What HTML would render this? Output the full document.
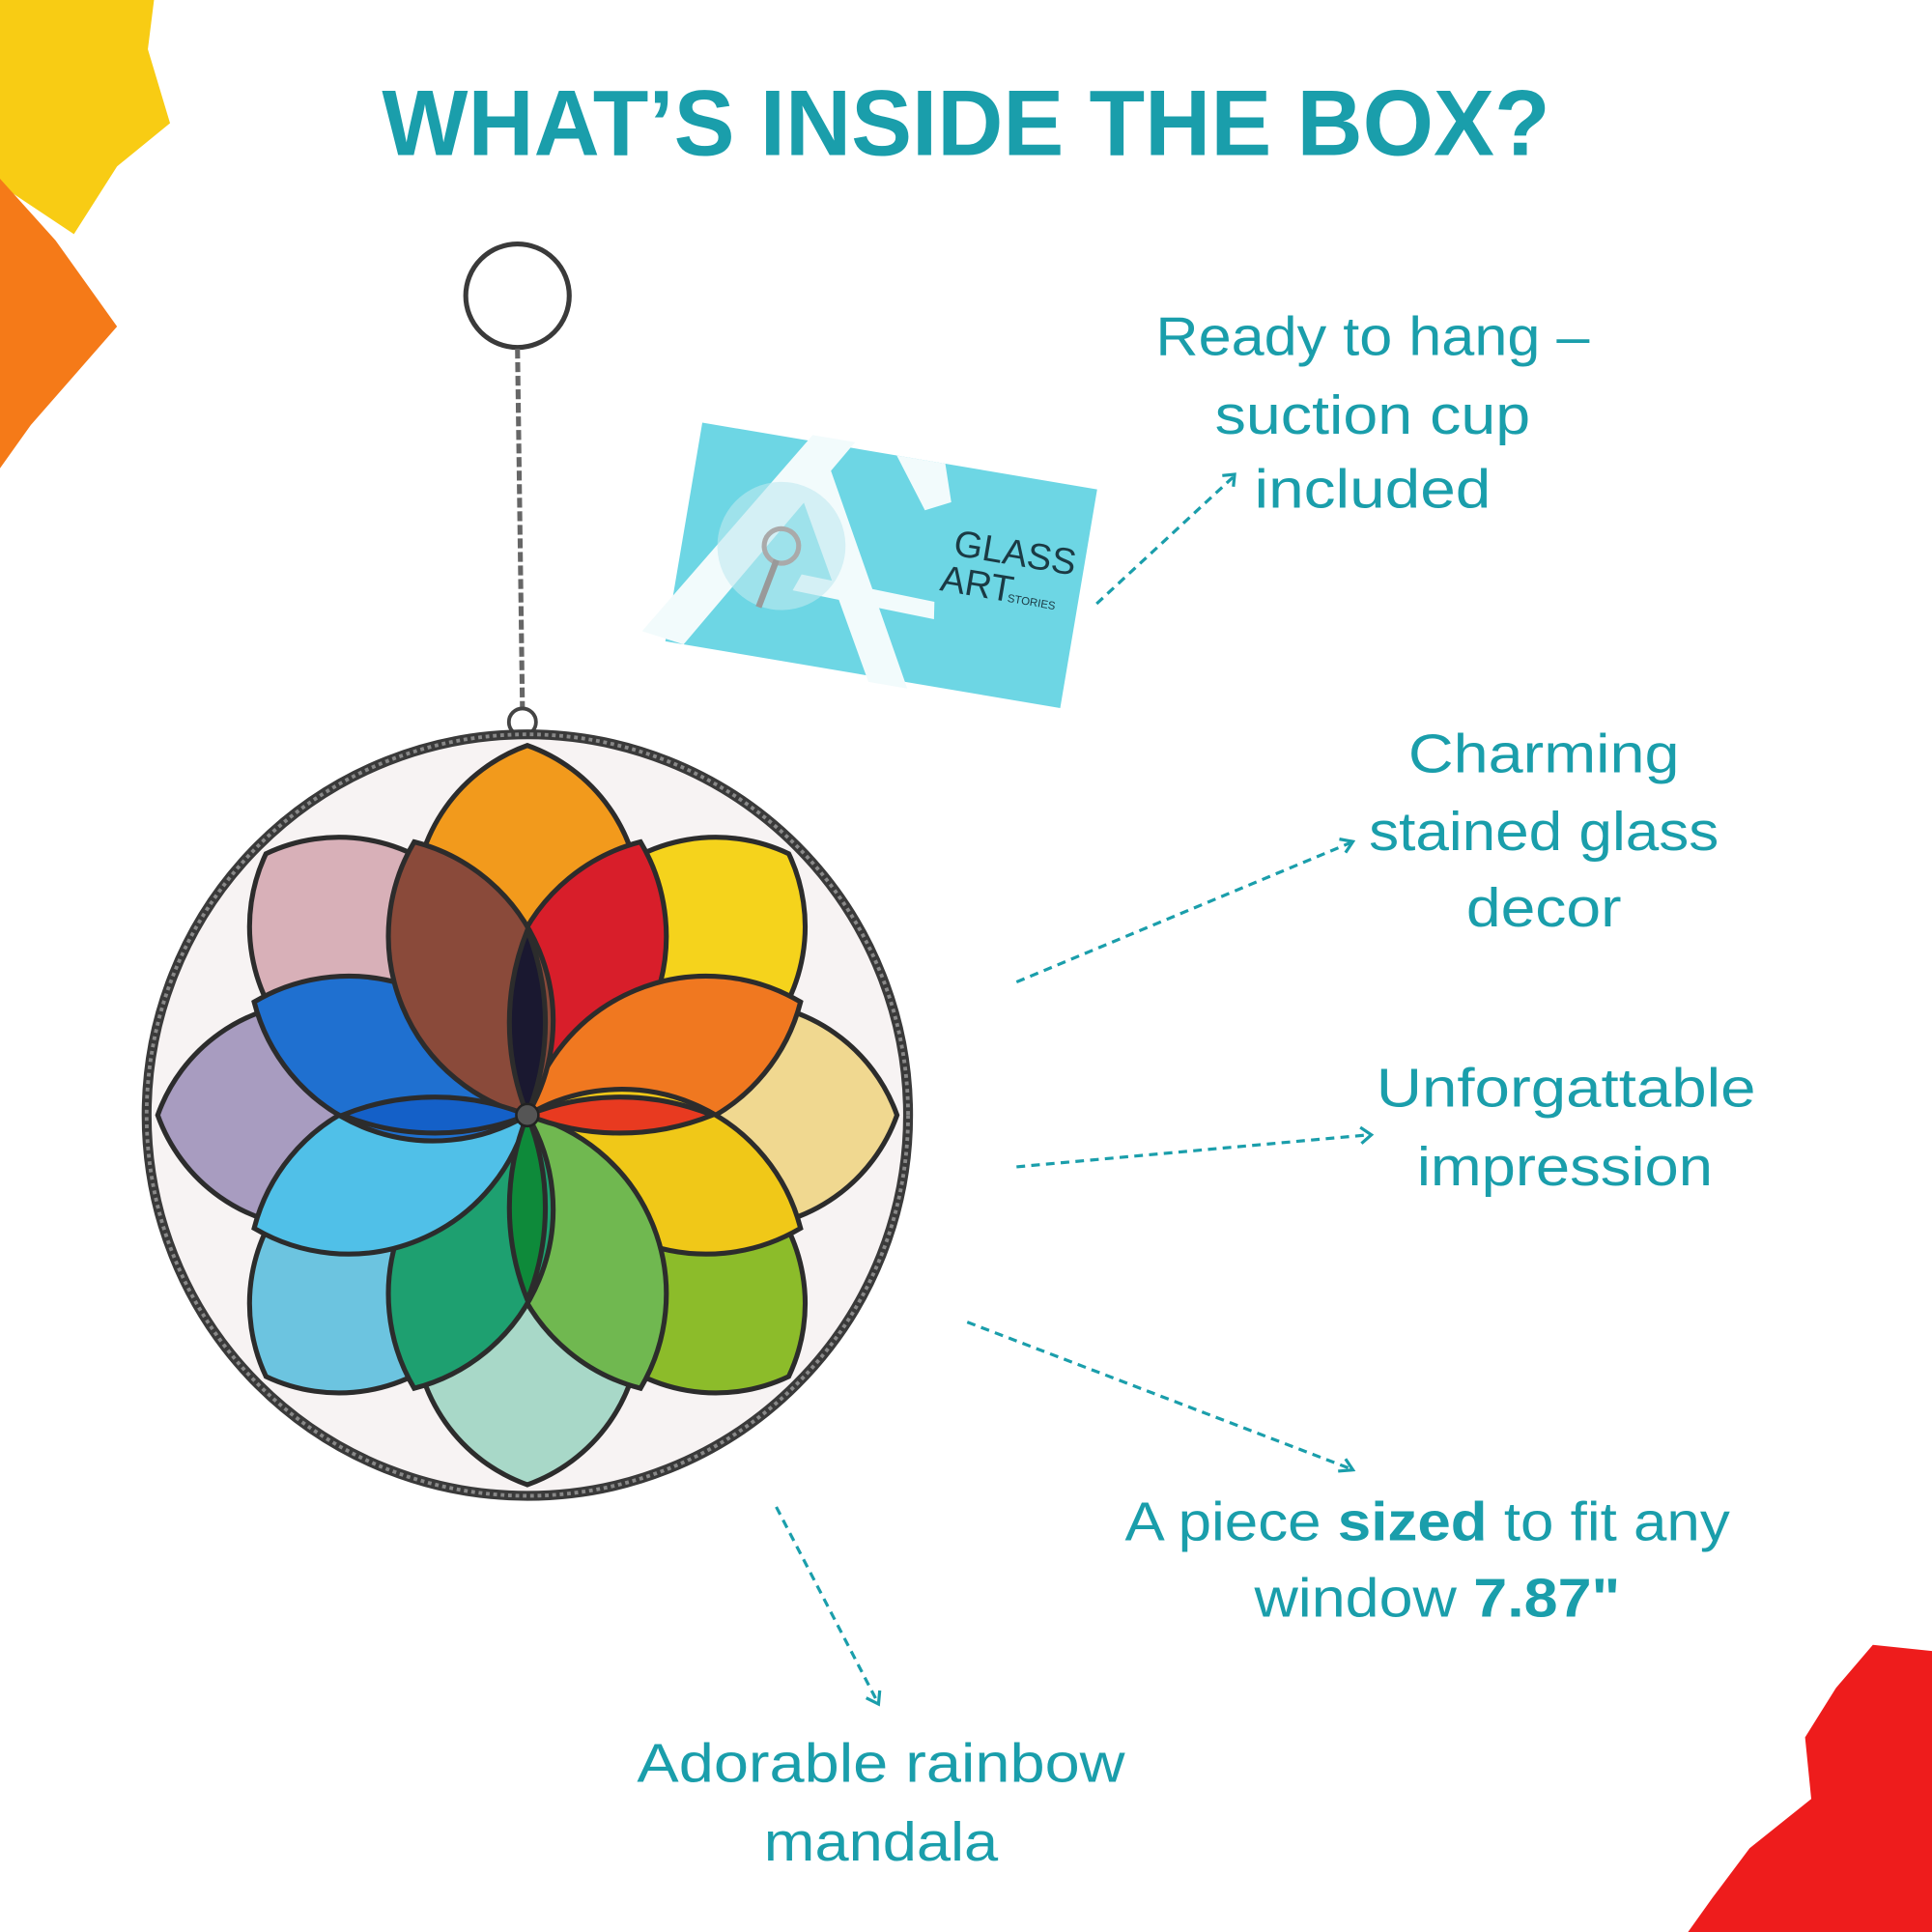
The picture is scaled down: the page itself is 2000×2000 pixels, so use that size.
<!DOCTYPE html>
<html><head><meta charset="utf-8"><style>
html,body{margin:0;padding:0;background:#fff}
svg{display:block}
text{font-family:"Liberation Sans",sans-serif;fill:#1a9eab}
</style></head><body>
<svg width="2000" height="2000" viewBox="0 0 1568 1568" xmlns="http://www.w3.org/2000/svg">
<defs>
<path id="op" d="M0,-40 A138,138 0 0 1 0,-300 A138,138 0 0 1 0,-40 Z"/>
<path id="ip" d="M0,0 A150,150 0 0 1 0,-240 A150,150 0 0 1 0,0 Z"/>
</defs>
<rect width="1568" height="1568" fill="#fff"/>
<path d="M0,0 L125,0 L120,40 L138,100 L95,135 L60,190 L0,150 Z" fill="#f8cc14"/>
<path d="M0,145 L45,195 L95,265 L25,345 L0,380 Z" fill="#f57a18"/>
<path d="M1568,1340 L1520,1335 L1490,1370 L1465,1410 L1470,1460 L1420,1500 L1390,1540 L1370,1568 L1568,1568 Z" fill="#ee1c1c"/>
<text x="784" y="126" text-anchor="middle" font-size="76" font-weight="bold" textLength="948" lengthAdjust="spacingAndGlyphs">WHAT’S INSIDE THE BOX?</text>
<circle cx="420" cy="240" r="42" fill="none" stroke="#3a3a3a" stroke-width="4"/>
<line x1="420" y1="283" x2="424" y2="575" stroke="#666" stroke-width="4" stroke-dasharray="8,3"/>
<circle cx="424" cy="586" r="11" fill="none" stroke="#444" stroke-width="3"/>
<g transform="translate(428,905)">
<circle r="309" fill="#f7f3f3" stroke="#3a3a3a" stroke-width="8"/>
<circle r="309" fill="none" stroke="#888" stroke-width="3" stroke-dasharray="3,3"/>
<g stroke="#2c2c2c" stroke-width="4">
<use href="#op" fill="#f29a1c"/>
<use href="#op" transform="rotate(45)" fill="#f5d31c"/>
<use href="#op" transform="rotate(90)" fill="#f0d890"/>
<use href="#op" transform="rotate(135)" fill="#8cbc2a"/>
<use href="#op" transform="rotate(180)" fill="#a8d8c8"/>
<use href="#op" transform="rotate(225)" fill="#6cc4e0"/>
<use href="#op" transform="rotate(270)" fill="#a89cc0"/>
<use href="#op" transform="rotate(315)" fill="#d8b0b8"/>
<use href="#ip" transform="rotate(22.5)" fill="#d81e2a"/>
<use href="#ip" transform="rotate(67.5)" fill="#f07820"/>
<use href="#ip" transform="rotate(112.5)" fill="#f0c818"/>
<use href="#ip" transform="rotate(157.5)" fill="#70b850"/>
<use href="#ip" transform="rotate(202.5)" fill="#1ea070"/>
<use href="#ip" transform="rotate(247.5)" fill="#50c0e8"/>
<use href="#ip" transform="rotate(292.5)" fill="#1f70d0"/>
<use href="#ip" transform="rotate(337.5)" fill="#8a4a3a"/>
<path d="M0,0 A200,200 0 0 1 0,-150 A200,200 0 0 1 0,0 Z" fill="#1a1830"/>
<path d="M0,0 A200,200 0 0 1 0,150 A200,200 0 0 1 0,0 Z" fill="#0e8a3a"/>
<path d="M0,0 A200,200 0 0 1 -150,0 A200,200 0 0 1 0,0 Z" fill="#1460c8"/>
<path d="M0,0 A200,200 0 0 1 150,0 A200,200 0 0 1 0,0 Z" fill="#e83a20"/>
</g>
<circle r="9" fill="#555" stroke="#222" stroke-width="2"/>
</g>
<g transform="translate(570,343) rotate(9.6)">
<rect x="0" y="0" width="325" height="180" fill="#6dd6e4"/>
<g fill="#f2fbfc">
<path d="M-20,175 L90,-5 L125,-5 L15,180 Z"/>
<path d="M95,-5 L200,185 L168,185 L75,20 Z"/>
<path d="M100,108 L210,112 L212,126 L95,122 Z"/>
<path d="M160,0 L200,0 L210,30 L190,40 Z"/>
</g>
<circle cx="80" cy="88" r="52" fill="#bfeaf0" opacity="0.6"/>
<circle cx="80" cy="88" r="14" fill="none" stroke="#aaa" stroke-width="4"/>
<line x1="78" y1="100" x2="70" y2="140" stroke="#999" stroke-width="5"/>
<text x="218" y="72" font-size="30" style="fill:#1b3a44">GLASS</text>
<text x="212" y="102" font-size="30" style="fill:#1b3a44">ART</text>
<text x="268" y="102" font-size="9" style="fill:#1b3a44">STORIES</text>
</g>
<g font-size="44">
<text x="938" y="288" textLength="352" lengthAdjust="spacingAndGlyphs">Ready to hang –</text>
<text x="986" y="352" textLength="256" lengthAdjust="spacingAndGlyphs">suction cup</text>
<text x="1018" y="412" textLength="192" lengthAdjust="spacingAndGlyphs">included</text>
<text x="1143" y="627" textLength="220" lengthAdjust="spacingAndGlyphs">Charming</text>
<text x="1111" y="690" textLength="284" lengthAdjust="spacingAndGlyphs">stained glass</text>
<text x="1190" y="752" textLength="126" lengthAdjust="spacingAndGlyphs">decor</text>
<text x="1117" y="898" textLength="308" lengthAdjust="spacingAndGlyphs">Unforgattable</text>
<text x="1150" y="962" textLength="240" lengthAdjust="spacingAndGlyphs">impression</text>
<text x="913" y="1250" textLength="491" lengthAdjust="spacingAndGlyphs">A piece <tspan font-weight="bold">sized</tspan> to fit any</text>
<text x="1018" y="1312" textLength="297" lengthAdjust="spacingAndGlyphs">window  <tspan font-weight="bold">7.87"</tspan></text>
<text x="517" y="1446" textLength="396" lengthAdjust="spacingAndGlyphs">Adorable rainbow</text>
<text x="620" y="1510" textLength="190" lengthAdjust="spacingAndGlyphs">mandala</text>
</g>
<g stroke="#1a9eab" stroke-width="2.5" fill="none" stroke-dasharray="7,5">
<line x1="890" y1="490" x2="1001" y2="387"/>
<line x1="825" y1="797" x2="1096" y2="684"/>
<line x1="825" y1="947" x2="1111" y2="921"/>
<line x1="785" y1="1073" x2="1096" y2="1192"/>
<line x1="630" y1="1223" x2="712" y2="1381"/>
</g>
<g stroke="#1a9eab" stroke-width="2.5" fill="none">
<path d="M992,386 L1002,385 L1001,395"/>
<path d="M1087,681 L1098,683 L1092,692"/>
<path d="M1104,915 L1113,921 L1105,928"/>
<path d="M1086,1194 L1098,1193 L1092,1184"/>
<path d="M703,1378 L713,1383 L714,1372"/>
</g>
</svg>
</body></html>
